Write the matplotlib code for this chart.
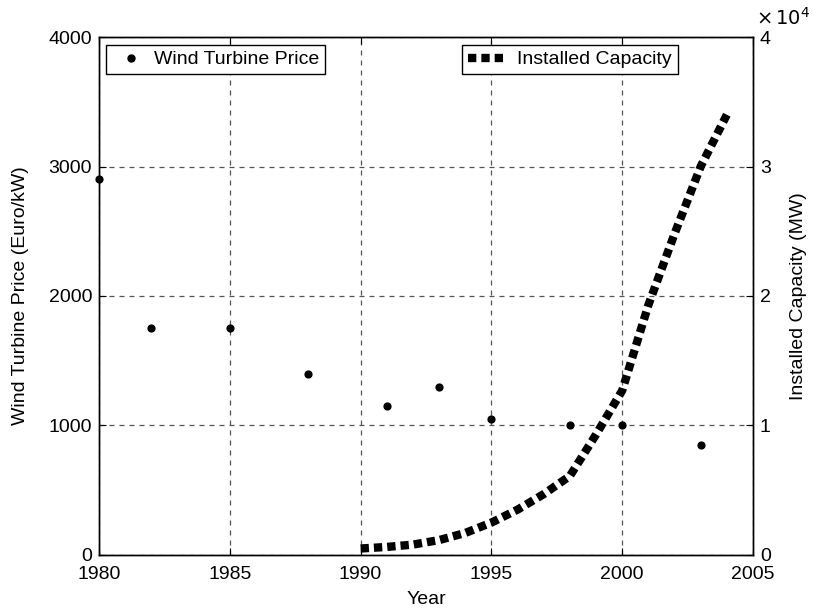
import matplotlib
matplotlib.use("Agg")
import matplotlib.pyplot as plt
from matplotlib.lines import Line2D

plt.rcParams['font.family'] = ['Liberation Sans', 'DejaVu Sans']

price_years = [1980, 1982, 1985, 1988, 1991, 1993, 1995, 1998, 2000, 2003]
price_values = [2900, 1750, 1750, 1400, 1150, 1300, 1050, 1000, 1000, 850]

cap_years = [1990, 1991, 1992, 1993, 1994, 1995, 1996, 1997, 1998, 1999, 2000, 2001, 2002, 2003, 2004]
cap_values = [500, 620, 800, 1150, 1700, 2500, 3500, 4700, 6100, 9300, 12700, 19300, 24800, 30000, 34000]

x_ticks = [1980, 1985, 1990, 1995, 2000, 2005]
left_ticks = [0, 1000, 2000, 3000, 4000]
right_ticks = [0, 10000, 20000, 30000, 40000]
right_labels = ['0', '1', '2', '3', '4']

FS = 14
fig = plt.figure(figsize=(8.13, 6.11), dpi=100)
ax = fig.add_axes([0.1218, 0.0917, 0.8044, 0.8477])
ax.scatter(price_years, price_values, s=24, color='black', zorder=3, clip_on=False)
ax.set_xlim(1980, 2005)
ax.set_ylim(0, 4000)
ax.set_xticks(x_ticks)
ax.set_yticks(left_ticks)
ax.grid(True, linestyle=(0, (4, 4)), color='#555555', linewidth=0.9)
ax.tick_params(direction='in', labelsize=FS, top=True, length=5)
ax.tick_params(axis='x', pad=8)
ax.tick_params(axis='y', pad=5)
ax.set_xlabel('Year', fontsize=FS, labelpad=6)
ax.set_ylabel('Wind Turbine Price (Euro/kW)', fontsize=FS, labelpad=14)

ax2 = ax.twinx()
ax2.plot(cap_years, cap_values, color='black', linewidth=6,
         linestyle=(0, (1, 0.6)), dash_capstyle='butt')
ax2.set_ylim(0, 40000)
ax2.set_yticks(right_ticks)
ax2.set_yticklabels(right_labels)
ax2.tick_params(direction='in', labelsize=FS, length=5, pad=5)
ax2.set_ylabel('Installed Capacity (MW)', fontsize=FS, labelpad=14)
ax2.text(1.004, 1.016, r'$\times\,10^4$', transform=ax2.transAxes, fontsize=FS,
         ha='left', va='bottom')

for a in (ax, ax2):
    for s in a.spines.values():
        s.set_linewidth(1.0)

h1 = Line2D([], [], marker='o', color='black', linestyle='none', markersize=5)
leg1 = ax2.legend([h1], ['Wind Turbine Price'], loc='upper left',
                  bbox_to_anchor=(0.0107, 0.9846), fontsize=FS, fancybox=False,
                  edgecolor='black', framealpha=1, handletextpad=0.15,
                  borderpad=0.3, handlelength=2.0, borderaxespad=0)
leg1.get_frame().set_linewidth(1.0)
ax2.add_artist(leg1)
h2 = Line2D([], [], color='black', linewidth=6, linestyle=(0, (1, 0.6)),
            dash_capstyle='butt')
leg2 = ax2.legend([h2], ['Installed Capacity'], loc='upper left',
                  bbox_to_anchor=(0.555, 0.9846), fontsize=FS, fancybox=False,
                  edgecolor='black', framealpha=1, handletextpad=0.75,
                  borderpad=0.3, handlelength=1.8, borderaxespad=0)
leg2.get_frame().set_linewidth(1.0)

fig.savefig('out.png', dpi=100)
